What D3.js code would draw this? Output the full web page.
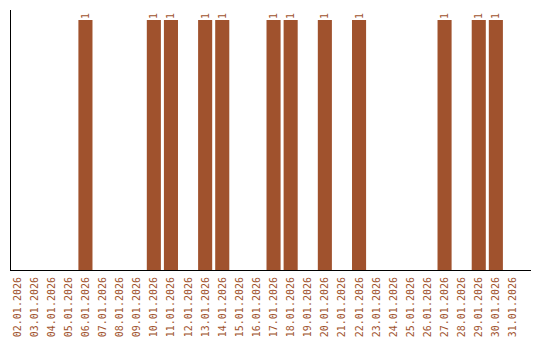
<!DOCTYPE html>
<html>
<head>
<meta charset="utf-8">
<script src="https://cdn.jsdelivr.net/npm/d3@7"></script>
<style>
  body { margin: 0; background: #fff; }
  svg text { font-family: 'DejaVu Sans Mono', monospace; font-size: 10px; fill: #a0522d; }
</style>
</head>
<body>
<div id="chart"></div>
<script>
// days of January 2026 shown on the x axis
const days = [
  '02.01.2026', '03.01.2026', '04.01.2026', '05.01.2026', '06.01.2026',
  '07.01.2026', '08.01.2026', '09.01.2026', '10.01.2026', '11.01.2026',
  '12.01.2026', '13.01.2026', '14.01.2026', '15.01.2026', '16.01.2026',
  '17.01.2026', '18.01.2026', '19.01.2026', '20.01.2026', '21.01.2026',
  '22.01.2026', '23.01.2026', '24.01.2026', '25.01.2026', '26.01.2026',
  '27.01.2026', '28.01.2026', '29.01.2026', '30.01.2026', '31.01.2026'
];
const counts = [
  0, 0, 0, 0, 1,
  0, 0, 0, 1, 1,
  0, 1, 1, 0, 0,
  1, 1, 0, 1, 0,
  1, 0, 0, 0, 0,
  1, 0, 1, 1, 0
];

const data = days.map((d, i) => ({ day: d, count: counts[i] }));

const width = 540;
const height = 340;
const left = 10;
const axisY = 270;

const xScale = d3.scaleBand()
  .domain(days)
  .range([left, left + 17 * days.length])
  .paddingInner(3 / 17)
  .paddingOuter(0)
  .align(0);

const yScale = d3.scaleLinear()
  .domain([0, 1])
  .range([axisY, 20]);

const svg = d3.select('#chart')
  .append('svg')
    .attr('width', width)
    .attr('height', height);

// bars
svg.selectAll('rect.bar')
  .data(data.filter((d) => d.count > 0))
  .enter().append('rect')
    .attr('class', 'bar')
    .attr('x', (d) => xScale(d.day))
    .attr('width', xScale.bandwidth())
    .attr('y', (d) => yScale(d.count))
    .attr('height', (d) => axisY - yScale(d.count))
    .attr('fill', '#a0522d');

// value labels above bars
svg.selectAll('text.value')
  .data(data.filter((d) => d.count > 0))
  .enter().append('text')
    .attr('class', 'value')
    .attr('transform', (d) => 'translate(' + (xScale(d.day) + xScale.bandwidth() / 2 + 3.5) + ',' + (yScale(d.count) - 1) + ') rotate(-90)')
    .text((d) => d.count);

// x axis labels
const xAxis = d3.axisBottom(xScale).tickSize(0).tickPadding(0);
const gx = svg.append('g')
  .attr('transform', 'translate(0,' + axisY + ')')
  .call(xAxis);
gx.select('.domain').remove();
gx.selectAll('text')
  .attr('fill', '#a0522d')
  .style('text-anchor', 'end')
  .attr('dy', null)
  .attr('y', 0)
  .attr('transform', 'translate(' + (-xScale.bandwidth() / 2 + 7 + 3.5) + ',7) rotate(-90)');

// axis lines
svg.append('line')
  .attr('x1', left + 0.5).attr('x2', left + 0.5)
  .attr('y1', 10).attr('y2', axisY)
  .attr('stroke', '#000');
svg.append('line')
  .attr('x1', left).attr('x2', 531)
  .attr('y1', axisY + 0.5).attr('y2', axisY + 0.5)
  .attr('stroke', '#000');
</script>
</body>
</html>
